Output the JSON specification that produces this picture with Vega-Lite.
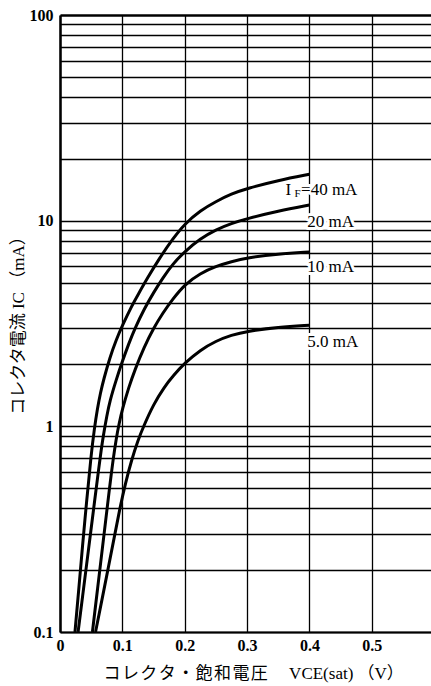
{
  "$schema": "https://vega.github.io/schema/vega-lite/v6.json",
  "width": 371,
  "height": 617,
  "autosize": {"type": "none"},
  "padding": {"left": 60, "top": 15, "right": 0, "bottom": 54},
  "background": "white",
  "config": {"view": {"stroke": null}},
  "datasets": {
    "curves": [
      {"IF": "40 mA", "v": 0.024, "ic": 0.1},
      {"IF": "40 mA", "v": 0.030, "ic": 0.16},
      {"IF": "40 mA", "v": 0.036, "ic": 0.26},
      {"IF": "40 mA", "v": 0.043, "ic": 0.443},
      {"IF": "40 mA", "v": 0.050, "ic": 0.73},
      {"IF": "40 mA", "v": 0.055, "ic": 0.97},
      {"IF": "40 mA", "v": 0.060, "ic": 1.22},
      {"IF": "40 mA", "v": 0.065, "ic": 1.46},
      {"IF": "40 mA", "v": 0.070, "ic": 1.69},
      {"IF": "40 mA", "v": 0.080, "ic": 2.16},
      {"IF": "40 mA", "v": 0.090, "ic": 2.63},
      {"IF": "40 mA", "v": 0.100, "ic": 3.09},
      {"IF": "40 mA", "v": 0.115, "ic": 3.85},
      {"IF": "40 mA", "v": 0.125, "ic": 4.36},
      {"IF": "40 mA", "v": 0.140, "ic": 5.25},
      {"IF": "40 mA", "v": 0.160, "ic": 6.6},
      {"IF": "40 mA", "v": 0.180, "ic": 8.1},
      {"IF": "40 mA", "v": 0.200, "ic": 9.66},
      {"IF": "40 mA", "v": 0.225, "ic": 11.2},
      {"IF": "40 mA", "v": 0.250, "ic": 12.4},
      {"IF": "40 mA", "v": 0.275, "ic": 13.5},
      {"IF": "40 mA", "v": 0.300, "ic": 14.35},
      {"IF": "40 mA", "v": 0.350, "ic": 15.7},
      {"IF": "40 mA", "v": 0.400, "ic": 16.8},
      {"IF": "20 mA", "v": 0.029, "ic": 0.1},
      {"IF": "20 mA", "v": 0.036, "ic": 0.147},
      {"IF": "20 mA", "v": 0.045, "ic": 0.242},
      {"IF": "20 mA", "v": 0.056, "ic": 0.445},
      {"IF": "20 mA", "v": 0.062, "ic": 0.62},
      {"IF": "20 mA", "v": 0.066, "ic": 0.766},
      {"IF": "20 mA", "v": 0.070, "ic": 0.92},
      {"IF": "20 mA", "v": 0.075, "ic": 1.12},
      {"IF": "20 mA", "v": 0.080, "ic": 1.33},
      {"IF": "20 mA", "v": 0.090, "ic": 1.68},
      {"IF": "20 mA", "v": 0.100, "ic": 2.07},
      {"IF": "20 mA", "v": 0.110, "ic": 2.51},
      {"IF": "20 mA", "v": 0.120, "ic": 2.99},
      {"IF": "20 mA", "v": 0.135, "ic": 3.72},
      {"IF": "20 mA", "v": 0.150, "ic": 4.47},
      {"IF": "20 mA", "v": 0.165, "ic": 5.27},
      {"IF": "20 mA", "v": 0.180, "ic": 6.12},
      {"IF": "20 mA", "v": 0.200, "ic": 7.08},
      {"IF": "20 mA", "v": 0.225, "ic": 8.17},
      {"IF": "20 mA", "v": 0.250, "ic": 9.04},
      {"IF": "20 mA", "v": 0.275, "ic": 9.7},
      {"IF": "20 mA", "v": 0.300, "ic": 10.23},
      {"IF": "20 mA", "v": 0.350, "ic": 11.14},
      {"IF": "20 mA", "v": 0.400, "ic": 11.91},
      {"IF": "10 mA", "v": 0.052, "ic": 0.1},
      {"IF": "10 mA", "v": 0.060, "ic": 0.16},
      {"IF": "10 mA", "v": 0.068, "ic": 0.256},
      {"IF": "10 mA", "v": 0.076, "ic": 0.409},
      {"IF": "10 mA", "v": 0.080, "ic": 0.518},
      {"IF": "10 mA", "v": 0.085, "ic": 0.684},
      {"IF": "10 mA", "v": 0.090, "ic": 0.867},
      {"IF": "10 mA", "v": 0.095, "ic": 1.04},
      {"IF": "10 mA", "v": 0.100, "ic": 1.21},
      {"IF": "10 mA", "v": 0.110, "ic": 1.54},
      {"IF": "10 mA", "v": 0.120, "ic": 1.88},
      {"IF": "10 mA", "v": 0.135, "ic": 2.43},
      {"IF": "10 mA", "v": 0.150, "ic": 3.0},
      {"IF": "10 mA", "v": 0.165, "ic": 3.56},
      {"IF": "10 mA", "v": 0.180, "ic": 4.13},
      {"IF": "10 mA", "v": 0.200, "ic": 4.9},
      {"IF": "10 mA", "v": 0.225, "ic": 5.55},
      {"IF": "10 mA", "v": 0.250, "ic": 6.0},
      {"IF": "10 mA", "v": 0.275, "ic": 6.33},
      {"IF": "10 mA", "v": 0.300, "ic": 6.6},
      {"IF": "10 mA", "v": 0.350, "ic": 6.9},
      {"IF": "10 mA", "v": 0.400, "ic": 7.05},
      {"IF": "5.0 mA", "v": 0.057, "ic": 0.1},
      {"IF": "5.0 mA", "v": 0.067, "ic": 0.142},
      {"IF": "5.0 mA", "v": 0.077, "ic": 0.202},
      {"IF": "5.0 mA", "v": 0.087, "ic": 0.288},
      {"IF": "5.0 mA", "v": 0.096, "ic": 0.40},
      {"IF": "5.0 mA", "v": 0.105, "ic": 0.53},
      {"IF": "5.0 mA", "v": 0.115, "ic": 0.69},
      {"IF": "5.0 mA", "v": 0.125, "ic": 0.855},
      {"IF": "5.0 mA", "v": 0.134, "ic": 1.0},
      {"IF": "5.0 mA", "v": 0.150, "ic": 1.28},
      {"IF": "5.0 mA", "v": 0.167, "ic": 1.55},
      {"IF": "5.0 mA", "v": 0.182, "ic": 1.77},
      {"IF": "5.0 mA", "v": 0.200, "ic": 2.03},
      {"IF": "5.0 mA", "v": 0.225, "ic": 2.35},
      {"IF": "5.0 mA", "v": 0.250, "ic": 2.6},
      {"IF": "5.0 mA", "v": 0.275, "ic": 2.78},
      {"IF": "5.0 mA", "v": 0.300, "ic": 2.9},
      {"IF": "5.0 mA", "v": 0.350, "ic": 3.04},
      {"IF": "5.0 mA", "v": 0.400, "ic": 3.1}
    ],
    "labels": [
      {"t": "I", "v": 0.3617, "ic": 13.27, "k": "main"},
      {"t": "F", "v": 0.3761, "ic": 13.0, "k": "sub"},
      {"t": "=40  mA", "v": 0.3866, "ic": 13.27, "k": "main"},
      {"t": "20 mA", "v": 0.3965, "ic": 9.32, "k": "main"},
      {"t": "10 mA", "v": 0.3965, "ic": 5.63, "k": "main"},
      {"t": "5.0 mA", "v": 0.3965, "ic": 2.43, "k": "main"}
    ]
  },
  "encoding": {
    "x": {
      "field": "v",
      "type": "quantitative",
      "scale": {"domain": [0, 0.595], "nice": false, "zero": false},
      "axis": {
        "title": "コ\u200aレ\u200aク\u200aタ\u200a・\u200a飽\u200a和\u200a電\u200a圧\u3000 VCE(sat) （V）",
        "values": [0, 0.1, 0.2, 0.3, 0.4, 0.5],
        "labelExpr": "datum.value == 0 ? '0' : format(datum.value, '.1f')",
        "grid": true,
        "gridColor": "black",
        "gridWidth": 1.3,
        "gridOpacity": 1,
        "ticks": false,
        "domain": true,
        "domainColor": "black",
        "domainWidth": 2.2,
        "labelFlush": false,
        "labelOverlap": false,
        "labelPadding": 5,
        "labelFont": "Liberation Serif",
        "labelFontSize": 16,
        "labelFontWeight": "bold",
        "labelColor": "black",
        "titleFont": "Liberation Serif, Noto Sans CJK JP",
        "titleFontSize": 17,
        "titleFontWeight": "normal",
        "titleColor": "black",
        "titleX": 43,
        "titleY": 46,
        "titleAlign": "left",
        "titleBaseline": "alphabetic"
      }
    },
    "y": {
      "field": "ic",
      "type": "quantitative",
      "scale": {"type": "log", "domain": [0.1, 100], "nice": false},
      "axis": {
        "title": "コレクタ電流  IC （mA）",
        "values": [0.1, 0.2, 0.3, 0.4, 0.5, 0.6, 0.7, 0.8, 0.9, 1, 2, 3, 4, 5, 6, 7, 8, 9, 10, 20, 30, 40, 50, 60, 70, 80, 90, 100],
        "labelExpr": "datum.value == 0.1 ? '0.1' : datum.value == 1 ? '1' : datum.value == 10 ? '10' : datum.value == 100 ? '100' : ''",
        "grid": true,
        "gridColor": "black",
        "gridWidth": {"condition": {"test": "datum.value == 100", "value": 2.5}, "value": 1.3},
        "gridOpacity": 1,
        "ticks": false,
        "domain": true,
        "domainColor": "black",
        "domainWidth": 2.5,
        "labelOverlap": false,
        "labelBound": false,
        "labelPadding": 7,
        "labelFont": "Liberation Serif",
        "labelFontSize": 16,
        "labelFontWeight": "bold",
        "labelColor": "black",
        "titleFont": "Liberation Serif, Noto Sans CJK JP",
        "titleFontSize": 17,
        "titleFontWeight": "normal",
        "titleColor": "black",
        "titleAngle": 270,
        "titleBaseline": "middle",
        "titleAlign": "center",
        "titleX": -42,
        "titleY": 306
      }
    }
  },
  "layer": [
    {
      "data": {"name": "curves"},
      "mark": {"type": "line", "color": "black", "strokeWidth": 3, "interpolate": "basis"},
      "encoding": {"detail": {"field": "IF", "type": "nominal"}}
    },
    {
      "data": {"name": "labels"},
      "transform": [{"filter": "datum.k == 'main'"}],
      "mark": {"type": "text", "align": "left", "baseline": "alphabetic", "font": "Liberation Serif", "fontSize": 17, "fill": "white", "stroke": "white", "strokeWidth": 6, "strokeJoin": "round"},
      "encoding": {"text": {"field": "t"}}
    },
    {
      "data": {"name": "labels"},
      "transform": [{"filter": "datum.k == 'sub'"}],
      "mark": {"type": "text", "align": "left", "baseline": "alphabetic", "font": "Liberation Serif", "fontSize": 11, "fill": "white", "stroke": "white", "strokeWidth": 5, "strokeJoin": "round"},
      "encoding": {"text": {"field": "t"}}
    },
    {
      "data": {"name": "labels"},
      "transform": [{"filter": "datum.k == 'main'"}],
      "mark": {"type": "text", "align": "left", "baseline": "alphabetic", "font": "Liberation Serif", "fontSize": 17, "color": "black"},
      "encoding": {"text": {"field": "t"}}
    },
    {
      "data": {"name": "labels"},
      "transform": [{"filter": "datum.k == 'sub'"}],
      "mark": {"type": "text", "align": "left", "baseline": "alphabetic", "font": "Liberation Serif", "fontSize": 11, "color": "black"},
      "encoding": {"text": {"field": "t"}}
    }
  ]
}
